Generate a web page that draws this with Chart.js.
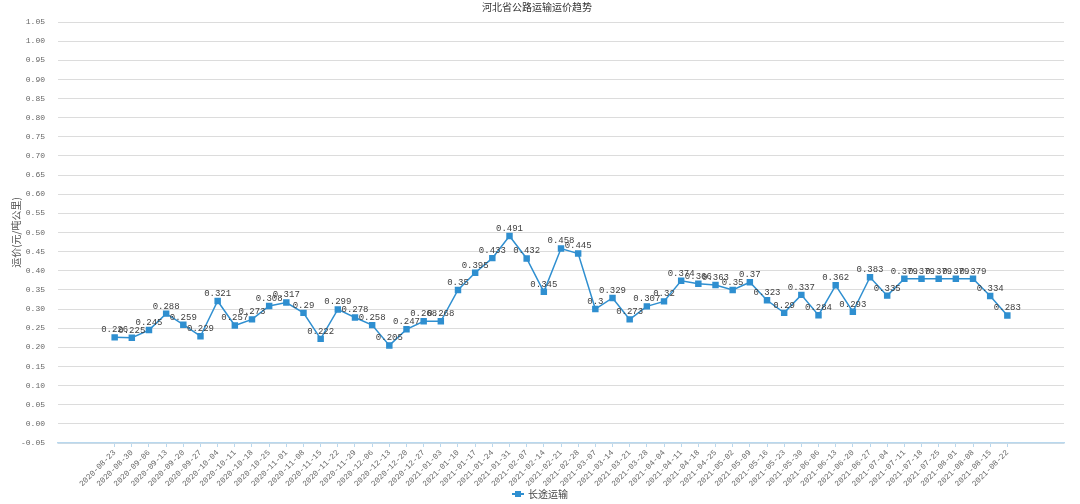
<!DOCTYPE html>
<html lang="zh">
<head>
    <meta charset="UTF-8">
    <title>河北省公路运输运价趋势</title>
    <style>
        html, body {
            margin: 0;
            padding: 0;
            background: #fff;
        }
        .chart-box {
            position: relative;
            width: 1080px;
            height: 504px;
        }
    </style>
    <script src="https://cdn.jsdelivr.net/npm/chart.js@4/dist/chart.umd.min.js"></script>
</head>
<body>
    <div class="chart-box">
        <canvas id="priceChart"></canvas>
    </div>

    <script>
        // 周度日期
        const weeks = [
            '2020-08-23', '2020-08-30', '2020-09-06', '2020-09-13', '2020-09-20', '2020-09-27',
            '2020-10-04', '2020-10-11', '2020-10-18', '2020-10-25', '2020-11-01', '2020-11-08',
            '2020-11-15', '2020-11-22', '2020-11-29', '2020-12-06', '2020-12-13', '2020-12-20',
            '2020-12-27', '2021-01-03', '2021-01-10', '2021-01-17', '2021-01-24', '2021-01-31',
            '2021-02-07', '2021-02-14', '2021-02-21', '2021-02-28', '2021-03-07', '2021-03-14',
            '2021-03-21', '2021-03-28', '2021-04-04', '2021-04-11', '2021-04-18', '2021-04-25',
            '2021-05-02', '2021-05-09', '2021-05-16', '2021-05-23', '2021-05-30', '2021-06-06',
            '2021-06-13', '2021-06-20', '2021-06-27', '2021-07-04', '2021-07-11', '2021-07-18',
            '2021-07-25', '2021-08-01', '2021-08-08', '2021-08-15', '2021-08-22'
        ];

        // 长途运输 运价 (元/吨公里)
        const longHaul = [
            0.226, 0.225, 0.245, 0.288, 0.259, 0.229,
            0.321, 0.257, 0.273, 0.308, 0.317, 0.29,
            0.222, 0.299, 0.278, 0.258, 0.205, 0.247,
            0.268, 0.268, 0.35, 0.395, 0.433, 0.491,
            0.432, 0.345, 0.458, 0.445, 0.3, 0.329,
            0.273, 0.307, 0.32, 0.374, 0.366, 0.363,
            0.35, 0.37, 0.323, 0.29, 0.337, 0.284,
            0.362, 0.293, 0.383, 0.335, 0.379, 0.379,
            0.379, 0.379, 0.379, 0.334, 0.283
        ];
        const seriesName = '长途运输';

        const yMin = -0.05;
        const yMax = 1.05;
        const yStep = 0.05;

        const lineColor = '#2f8fd0';
        const cjkFont = '"Noto Sans CJK SC", "Liberation Sans", sans-serif';
        const numFont = '"Liberation Mono", "DejaVu Sans Mono", monospace';

        // 数据标签
        const valueLabels = {
            id: 'valueLabels',
            afterDatasetsDraw(chart) {
                const ctx = chart.ctx;
                const meta = chart.getDatasetMeta(0);
                ctx.save();
                ctx.font = '9px ' + numFont;
                ctx.fillStyle = '#404040';
                ctx.textAlign = 'center';
                ctx.textBaseline = 'bottom';
                meta.data.forEach((pt, i) => {
                    ctx.fillText(String(longHaul[i]), pt.x, pt.y - 3);
                });
                ctx.restore();
            }
        };

        // 底部图例: 线 + 方块 + 名称
        const bottomLegend = {
            id: 'bottomLegend',
            afterDraw(chart) {
                const ctx = chart.ctx;
                const cx = chart.width / 2;
                const y = chart.height - 10;
                ctx.save();
                ctx.font = '10px ' + cjkFont;
                const tw = ctx.measureText(seriesName).width;
                const x0 = cx - (16 + tw) / 2;
                ctx.strokeStyle = lineColor;
                ctx.lineWidth = 2;
                ctx.beginPath();
                ctx.moveTo(x0, y);
                ctx.lineTo(x0 + 12, y);
                ctx.stroke();
                ctx.fillStyle = lineColor;
                ctx.fillRect(x0 + 3, y - 3, 6, 6);
                ctx.fillStyle = '#444';
                ctx.textBaseline = 'middle';
                ctx.fillText(seriesName, x0 + 16, y);
                ctx.restore();
            }
        };

        const ctx = document.getElementById('priceChart').getContext('2d');
        const priceChart = new Chart(ctx, {
            type: 'line',
            data: {
                datasets: [{
                    label: seriesName,
                    data: longHaul.map((v, i) => ({ x: i, y: v })),
                    borderColor: lineColor,
                    backgroundColor: lineColor,
                    borderWidth: 1.5,
                    pointStyle: 'rect',
                    pointRadius: 3.5,
                    pointHoverRadius: 3.5,
                    tension: 0
                }]
            },
            options: {
                responsive: true,
                maintainAspectRatio: false,
                animation: false,
                layout: {
                    padding: { left: 10, right: 16, top: 0, bottom: 18 }
                },
                plugins: {
                    title: {
                        display: true,
                        text: '河北省公路运输运价趋势',
                        color: '#333',
                        font: { family: cjkFont, size: 10, weight: 'normal' },
                        padding: { top: 1, bottom: 9 }
                    },
                    legend: { display: false },
                    tooltip: { enabled: false }
                },
                scales: {
                    x: {
                        type: 'linear',
                        min: -3.3,
                        max: 55.3,
                        afterBuildTicks(scale) {
                            scale.ticks = weeks.map((_, i) => ({ value: i }));
                        },
                        afterFit(scale) {
                            scale.height = 43;
                        },
                        ticks: {
                            autoSkip: false,
                            minRotation: 45,
                            maxRotation: 45,
                            padding: 1,
                            color: '#666',
                            font: { family: numFont, size: 8 },
                            callback: (v) => weeks[v] || ''
                        },
                        grid: {
                            drawOnChartArea: false,
                            drawTicks: true,
                            tickLength: 4,
                            color: '#b9d8ee'
                        },
                        border: { color: '#b9d8ee', width: 1.5 }
                    },
                    y: {
                        min: yMin,
                        max: yMax,
                        afterFit(scale) {
                            scale.width = 48;
                        },
                        ticks: {
                            stepSize: yStep,
                            padding: 13,
                            color: '#666',
                            font: { family: numFont, size: 8 },
                            callback: (v) => v.toFixed(2)
                        },
                        title: {
                            display: true,
                            text: '运价(元/吨公里)',
                            color: '#555',
                            font: { family: cjkFont, size: 10 },
                            padding: 0
                        },
                        grid: {
                            color: '#dcdcdc',
                            drawTicks: false
                        },
                        border: { display: false }
                    }
                }
            },
            plugins: [valueLabels, bottomLegend]
        });
    </script>
</body>
</html>
